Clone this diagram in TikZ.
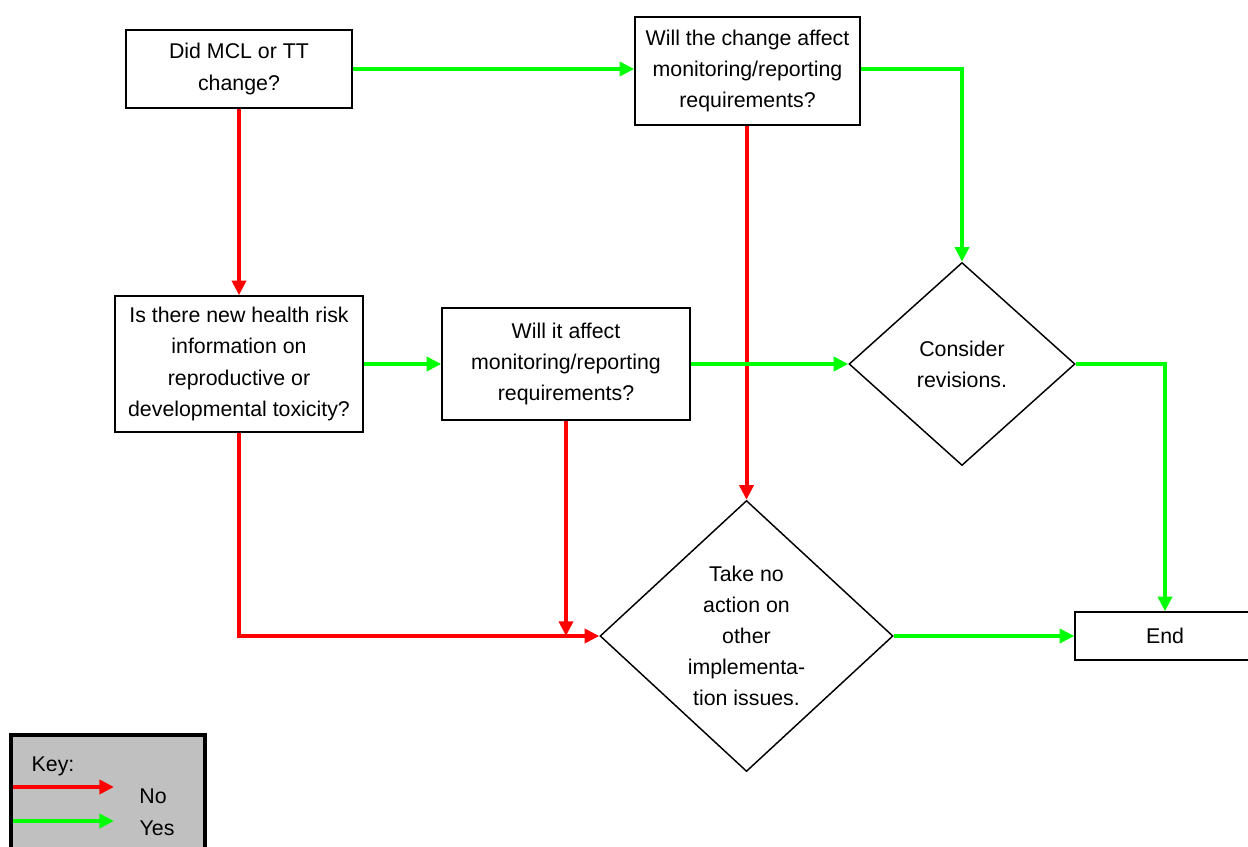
\documentclass[tikz,border=0pt]{standalone}
\usepackage{fontspec}
\setmainfont{Liberation Sans}
\usetikzlibrary{arrows.meta,shapes.geometric}
\begin{document}
\begin{tikzpicture}[x=0.75pt, y=-0.75pt, line join=miter,
  font=\fontsize{16}{23.3}\selectfont,
  box/.style={draw, line width=1.1pt, rectangle, align=center, inner sep=0pt},
  decision/.style={draw, line width=1.1pt, diamond, inner sep=0pt},
  noarrow/.style={draw=red, line width=3pt, -{Triangle[length=11pt,width=10.5pt]}},
  yesarrow/.style={draw=green, line width=3pt, -{Triangle[length=11pt,width=10.5pt]}}]
  \useasboundingbox (0,0) rectangle (1248,846);
  % questions
  \node[box, minimum width=226*0.75pt, minimum height=78*0.75pt] (mcl) at (239,69) {Did MCL or TT\\change?};
  \node[box, minimum width=225*0.75pt, minimum height=108*0.75pt] (affect) at (747.5,71) {Will the change affect\\monitoring/reporting\\requirements?};
  \node[box, minimum width=248*0.75pt, minimum height=136*0.75pt] (risk) at (239,364) {Is there new health risk\\information on\\reproductive or\\developmental toxicity?};
  \node[box, minimum width=248*0.75pt, minimum height=112*0.75pt] (itaffect) at (566,364) {Will it affect\\monitoring/reporting\\requirements?};
  % decisions
  \node[decision, minimum width=226*0.75pt, minimum height=203*0.75pt] (revise) at (962,364) {};
  \node[align=center] at (revise) {Consider\\revisions.};
  \node[decision, minimum width=293*0.75pt, minimum height=271*0.75pt] (noaction) at (746.5,636) {};
  \node[align=center] at (noaction) {Take no\\action on\\other\\implementa-\\tion issues.};
  \node[box, minimum width=180*0.75pt, minimum height=48*0.75pt] (end) at (1165,636) {End};
  % connectors
  \draw[yesarrow] (mcl.east) -- (affect.west |- mcl.east);
  \draw[noarrow] (mcl.south) -- (risk.north);
  \draw[yesarrow] (affect.east |- mcl.east) -| (revise.north);
  \draw[noarrow] (affect.south -| noaction.north) -- (noaction.north);
  \draw[yesarrow] (risk.east) -- (itaffect.west);
  \draw[yesarrow] (itaffect.east) -- (revise.west);
  \coordinate (join) at (itaffect.south |- noaction.west);
  \draw[noarrow] (itaffect.south) -- (join);
  \draw[noarrow] (risk.south) |- (noaction.west);
  \draw[yesarrow] (revise.east) -| (end.north);
  \draw[yesarrow] (noaction.east) -- (end.west);
  % key
  \draw[line width=3.5pt, fill={rgb,255:red,192;green,192;blue,192}] (11,735) rectangle (205,860);
  \node[anchor=west] (keytitle) at (27,766) {Key:};
  \coordinate (nostart) at (13,787);
  \coordinate (noend) at (114,787);
  \coordinate (yesstart) at (13,821);
  \coordinate (yesend) at (114,821);
  \draw[noarrow] (nostart) -- (noend);
  \draw[yesarrow] (yesstart) -- (yesend);
  \node (nolabel) at (153,796) {No};
  \node (yeslabel) at (157,828) {Yes};
\end{tikzpicture}
\end{document}
